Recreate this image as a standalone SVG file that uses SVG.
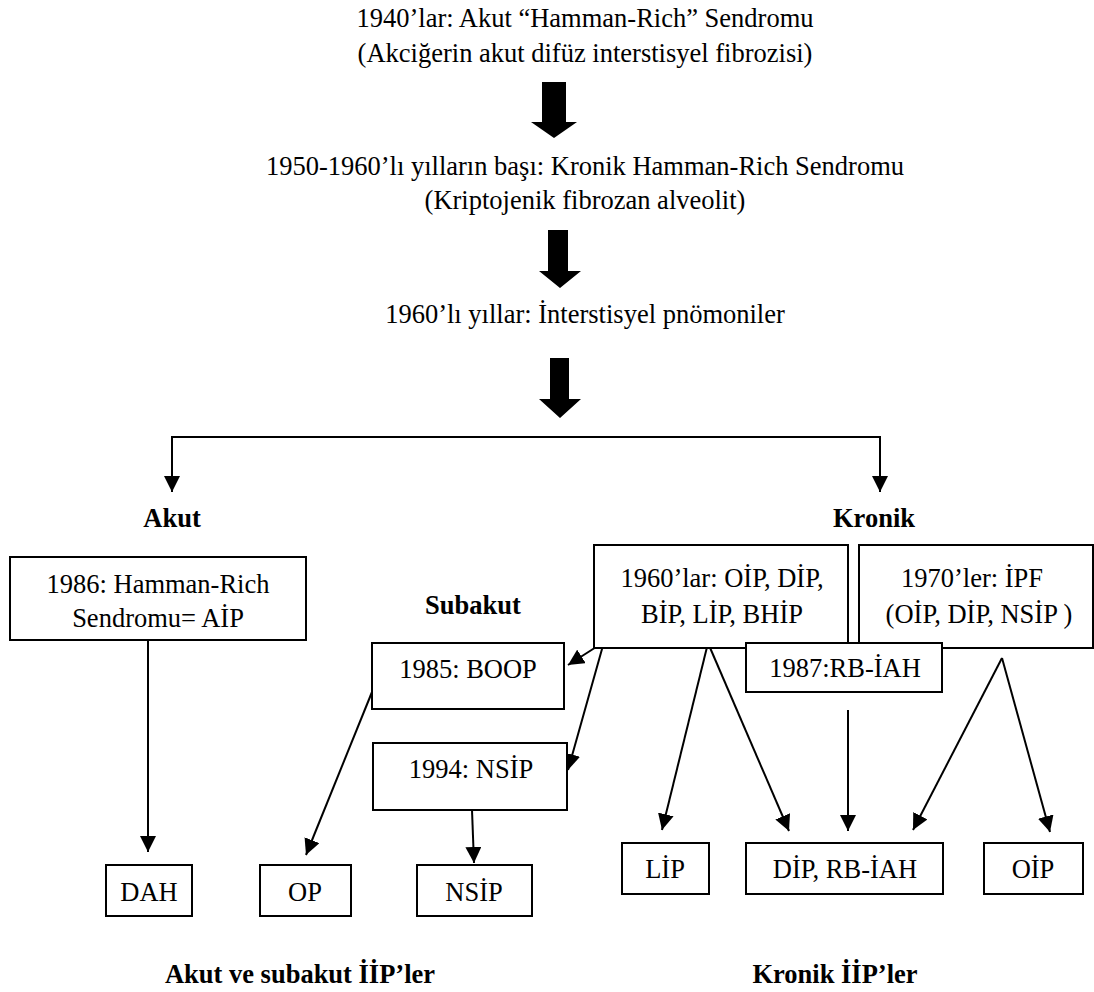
<svg xmlns="http://www.w3.org/2000/svg" width="1094" height="992" viewBox="0 0 1094 992">
<style>
text{font-family:"Liberation Serif","Times New Roman",serif;font-size:26.5px;fill:#000;text-anchor:middle}
.b{font-weight:bold}
.box{fill:#fff;stroke:#000;stroke-width:2}
.ln{fill:none;stroke:#000;stroke-width:2}
.fat{fill:#000}
</style>
<defs>
<marker id="ah" markerUnits="userSpaceOnUse" markerWidth="16" markerHeight="16" refX="16" refY="8" orient="auto-start-reverse">
<path d="M0,0 L16,8 L0,16 z" fill="#000"/>
</marker>
</defs>
<rect width="1094" height="992" fill="#fff"/>
<g id="title1">
<text x="585" y="27">1940’lar: Akut “Hamman-Rich” Sendromu</text>
<text x="585" y="62">(Akciğerin akut difüz interstisyel fibrozisi)</text>
</g>
<g id="title2">
<text x="585" y="175">1950-1960’lı yılların başı: Kronik Hamman-Rich Sendromu</text>
<text x="585" y="209">(Kriptojenik fibrozan alveolit)</text>
</g>
<g id="title3">
<text x="585" y="323">1960’lı yıllar: İnterstisyel pnömoniler</text>
</g>
<g id="connectors">
<polygon class="fat" points="542,82 566,82 566,122 577,122 554,138 531,122 542,122"/>
<polygon class="fat" points="548,230 568,230 568,271 581,271 560,288 539,271 548,271"/>
<polygon class="fat" points="550,358 569,358 569,399 581,399 560,418 539,399 550,399"/>
<path class="ln" d="M172,492 V437 H880 V492" marker-start="url(#ah)" marker-end="url(#ah)"/>
<path class="ln" d="M148,640 V852" marker-end="url(#ah)"/>
<path class="ln" d="M372,692 L306,855" marker-end="url(#ah)"/>
<path class="ln" d="M472,810 L474,863" marker-end="url(#ah)"/>
<path class="ln" d="M604,642 L568,665" marker-end="url(#ah)"/>
<path class="ln" d="M604,642 L568,770" marker-end="url(#ah)"/>
<path class="ln" d="M708,643 L662,830" marker-end="url(#ah)"/>
<path class="ln" d="M708,643 L789,831" marker-end="url(#ah)"/>
<path class="ln" d="M848,710 L848,831" marker-end="url(#ah)"/>
<path class="ln" d="M1002,658 L913,830" marker-end="url(#ah)"/>
<path class="ln" d="M1002,658 L1050,832" marker-end="url(#ah)"/>
</g>
<g id="lbl-akut"><text class="b" x="172" y="527">Akut</text></g>
<g id="lbl-kronik"><text class="b" x="874" y="527">Kronik</text></g>
<g id="lbl-subakut"><text class="b" x="473" y="614">Subakut</text></g>
<g id="n1986">
<rect class="box" x="10" y="557" width="296" height="83"/>
<text x="158" y="593">1986: Hamman-Rich</text>
<text x="158" y="627">Sendromu= AİP</text>
</g>
<g id="n1960">
<rect class="box" x="594" y="545" width="254" height="103"/>
<text x="722" y="587">1960’lar: OİP, DİP,</text>
<text x="722" y="623">BİP, LİP, BHİP</text>
</g>
<g id="n1970">
<rect class="box" x="859" y="545" width="234" height="103"/>
<text x="972" y="587">1970’ler: İPF</text>
<text x="979" y="623">(OİP, DİP, NSİP )</text>
</g>
<g id="n1987">
<rect class="box" x="746" y="643" width="196" height="49"/>
<text x="845" y="677">1987:RB-İAH</text>
</g>
<g id="n1985">
<rect class="box" x="372" y="643" width="192" height="66"/>
<text x="468" y="678">1985: BOOP</text>
</g>
<g id="n1994">
<rect class="box" x="373" y="743" width="194" height="67"/>
<text x="471" y="778">1994: NSİP</text>
</g>
<g id="nDAH">
<rect class="box" x="106" y="865" width="86" height="51"/>
<text x="149" y="901">DAH</text>
</g>
<g id="nOP">
<rect class="box" x="260" y="865" width="91" height="51"/>
<text x="305" y="901">OP</text>
</g>
<g id="nNSIP">
<rect class="box" x="417" y="865" width="115" height="51"/>
<text x="474" y="901">NSİP</text>
</g>
<g id="nLIP">
<rect class="box" x="622" y="843" width="87" height="51"/>
<text x="665" y="878">LİP</text>
</g>
<g id="nDIP">
<rect class="box" x="746" y="843" width="197" height="51"/>
<text x="845" y="878">DİP, RB-İAH</text>
</g>
<g id="nOIP">
<rect class="box" x="984" y="843" width="99" height="51"/>
<text x="1033" y="878">OİP</text>
</g>
<g id="lbl-acute-iip"><text class="b" x="300" y="983">Akut ve subakut İİP’ler</text></g>
<g id="lbl-chronic-iip"><text class="b" x="835" y="983">Kronik İİP’ler</text></g>
</svg>
